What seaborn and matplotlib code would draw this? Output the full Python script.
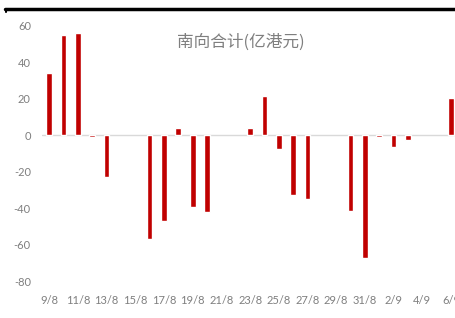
import matplotlib
matplotlib.use("Agg")
import matplotlib.pyplot as plt
import numpy as np
import seaborn as sns
from matplotlib.lines import Line2D

dates = ['9/8', '10/8', '11/8', '12/8', '13/8', '14/8', '15/8', '16/8', '17/8', '18/8',
         '19/8', '20/8', '21/8', '22/8', '23/8', '24/8', '25/8', '26/8', '27/8', '28/8',
         '29/8', '30/8', '31/8', '1/9', '2/9', '3/9', '4/9', '5/9', '6/9']
southbound = [34.3, 54.9, 56.1, -0.8, -22.9, np.nan, np.nan, -56.9, -47.3, 4.2,
              -39.6, -42.2, np.nan, np.nan, 4.2, 21.6, -7.3, -32.7, -34.9, np.nan,
              np.nan, -41.8, -67.1, -1.0, -6.4, -2.4, np.nan, np.nan, 20.7]
yticks = [-80, -60, -40, -20, 0, 20, 40, 60]
title = '南向合计(亿港元)'

sns.set_style('white')
plt.rcParams['font.family'] = ['Lato', 'Noto Sans CJK SC', 'DejaVu Sans']

fig = plt.figure(figsize=(4.55, 3.18), dpi=100)
ax = fig.add_axes([42 / 455, 1 - 281 / 318, 1 - 42 / 455, 255 / 318])

sns.barplot(x=dates, y=southbound, order=dates, color='#C00000', saturation=1,
            width=0.4, ax=ax)

ax.set_xlim(-0.5, 28.28)
ax.set_ylim(-80, 60)
ax.axhline(0, color='#d9d9d9', lw=1, zorder=0)
ax.set_yticks(yticks)
ax.set_yticklabels([str(v) for v in yticks])
ax.set_xticks(range(0, len(dates), 2))
ax.set_xticklabels(dates[::2])
ax.tick_params(colors='#7f7f7f', labelsize=8, length=0)
ax.tick_params(axis='x', pad=10)
ax.tick_params(axis='y', pad=8)
for s in ax.spines.values():
    s.set_visible(False)

fig.text(241 / 455, 1 - 42 / 318, title, ha='center', va='center', fontsize=12,
         color='#7f7f7f', family=['Noto Sans CJK SC', 'DejaVu Sans'])

fig.add_artist(Line2D([5 / 455, 1], [1 - 9 / 318] * 2, color='black', lw=2.5))
fig.add_artist(Line2D([6 / 455, 6 / 455], [1 - 9 / 318, 1 - 12 / 318], color='black', lw=1.5))

fig.savefig('out.png', dpi=100)
